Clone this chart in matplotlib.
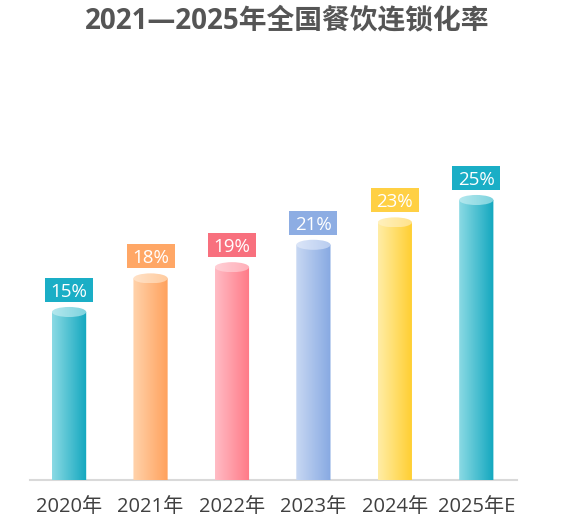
import numpy as np
import matplotlib
matplotlib.use('Agg')
import matplotlib.pyplot as plt
from matplotlib.colors import LinearSegmentedColormap
from matplotlib.patches import Ellipse, Polygon, Rectangle

plt.rcParams['font.family'] = ['Open Sans', 'Noto Sans CJK SC', 'DejaVu Sans']

# data
years = ['2020年', '2021年', '2022年', '2023年', '2024年', '2025年E']
rates = [15, 18, 19, 21, 23, 25]
title = '2021—2025年全国餐饮连锁化率'

# style: (left light, right dark, top light, top dark, label box)
palette = [
    ('#8BDAE4', '#12A7BF', '#B4E8EE', '#7DD3DE', '#1AAEC6'),
    ('#FFD3AC', '#FFA15C', '#FFE2C8', '#FFCB9E', '#FFA766'),
    ('#FFBCC5', '#FF7986', '#FFD0D6', '#FFAEB8', '#F8707E'),
    ('#C8D8F3', '#87A9E2', '#DCE6F8', '#B9CDF0', '#8DADE3'),
    ('#FFEDA6', '#FFCE2E', '#FFF1BE', '#FFE28A', '#FFD044'),
    ('#8BDAE4', '#12A7BF', '#B4E8EE', '#7DD3DE', '#1AAEC6'),
]

fig = plt.figure(figsize=(5.74, 5.24), dpi=100)
ax = fig.add_axes([30 / 574, 44 / 524, 487 / 574, 420 / 524])

w = 0.42      # cylinder width (x units)
eh = 0.45     # ellipse half-height (y units)
bw, bh, boff = 0.59, 2.14, 1.96   # label box size / offset
grad = np.linspace(0, 1, 256).reshape(1, -1)
t = np.linspace(np.pi, 2 * np.pi, 60)

for i, (yr, v) in enumerate(zip(years, rates)):
    light, dark, tl, td, box = palette[i]
    x0, x1 = i - w / 2, i + w / 2
    # body: rectangle + bottom half ellipse
    pts = [(x0, v)] + [(i + w / 2 * np.cos(a), eh * np.sin(a)) for a in t] + [(x1, v)]
    body = Polygon(pts, closed=True, facecolor='none', edgecolor='none')
    ax.add_patch(body)
    cmap = LinearSegmentedColormap.from_list('b%d' % i, [light, dark])
    im = ax.imshow(grad, extent=(x0, x1, -eh, v), cmap=cmap, aspect='auto', zorder=2)
    im.set_clip_path(body)
    # top ellipse
    top = Ellipse((i, v), w, 2 * eh, facecolor='none', edgecolor='none')
    ax.add_patch(top)
    cmap2 = LinearSegmentedColormap.from_list('t%d' % i, [tl, td])
    im2 = ax.imshow(grad, extent=(x0, x1, v - eh, v + eh), cmap=cmap2, aspect='auto', zorder=3)
    im2.set_clip_path(top)
    # label box
    ax.add_patch(Rectangle((i - bw / 2, v + boff - bh / 2), bw, bh,
                           facecolor=box, edgecolor='none', zorder=4))
    ax.text(i, v + boff, '%d%%' % v, ha='center', va='center_baseline',
            color='white', fontsize=13.5, zorder=5)

ax.set_xlim(-0.48, 5.5)
ax.set_ylim(0, 37.5)
ax.set_xticks(range(len(years)))
ax.set_xticklabels(years, fontsize=14.5, color='#404040')
ax.tick_params(axis='x', length=0, pad=12)
ax.set_yticks([])
for s in ['top', 'left', 'right']:
    ax.spines[s].set_visible(False)
ax.spines['bottom'].set_color('#D9D9D9')
ax.spines['bottom'].set_linewidth(1.5)
ax.spines['bottom'].set_zorder(1)

fig.text(287 / 574, 1 - 21 / 524, title, ha='center', va='center',
         fontsize=20, fontweight='bold', color='#555555')

fig.savefig('out.png', dpi=100)
